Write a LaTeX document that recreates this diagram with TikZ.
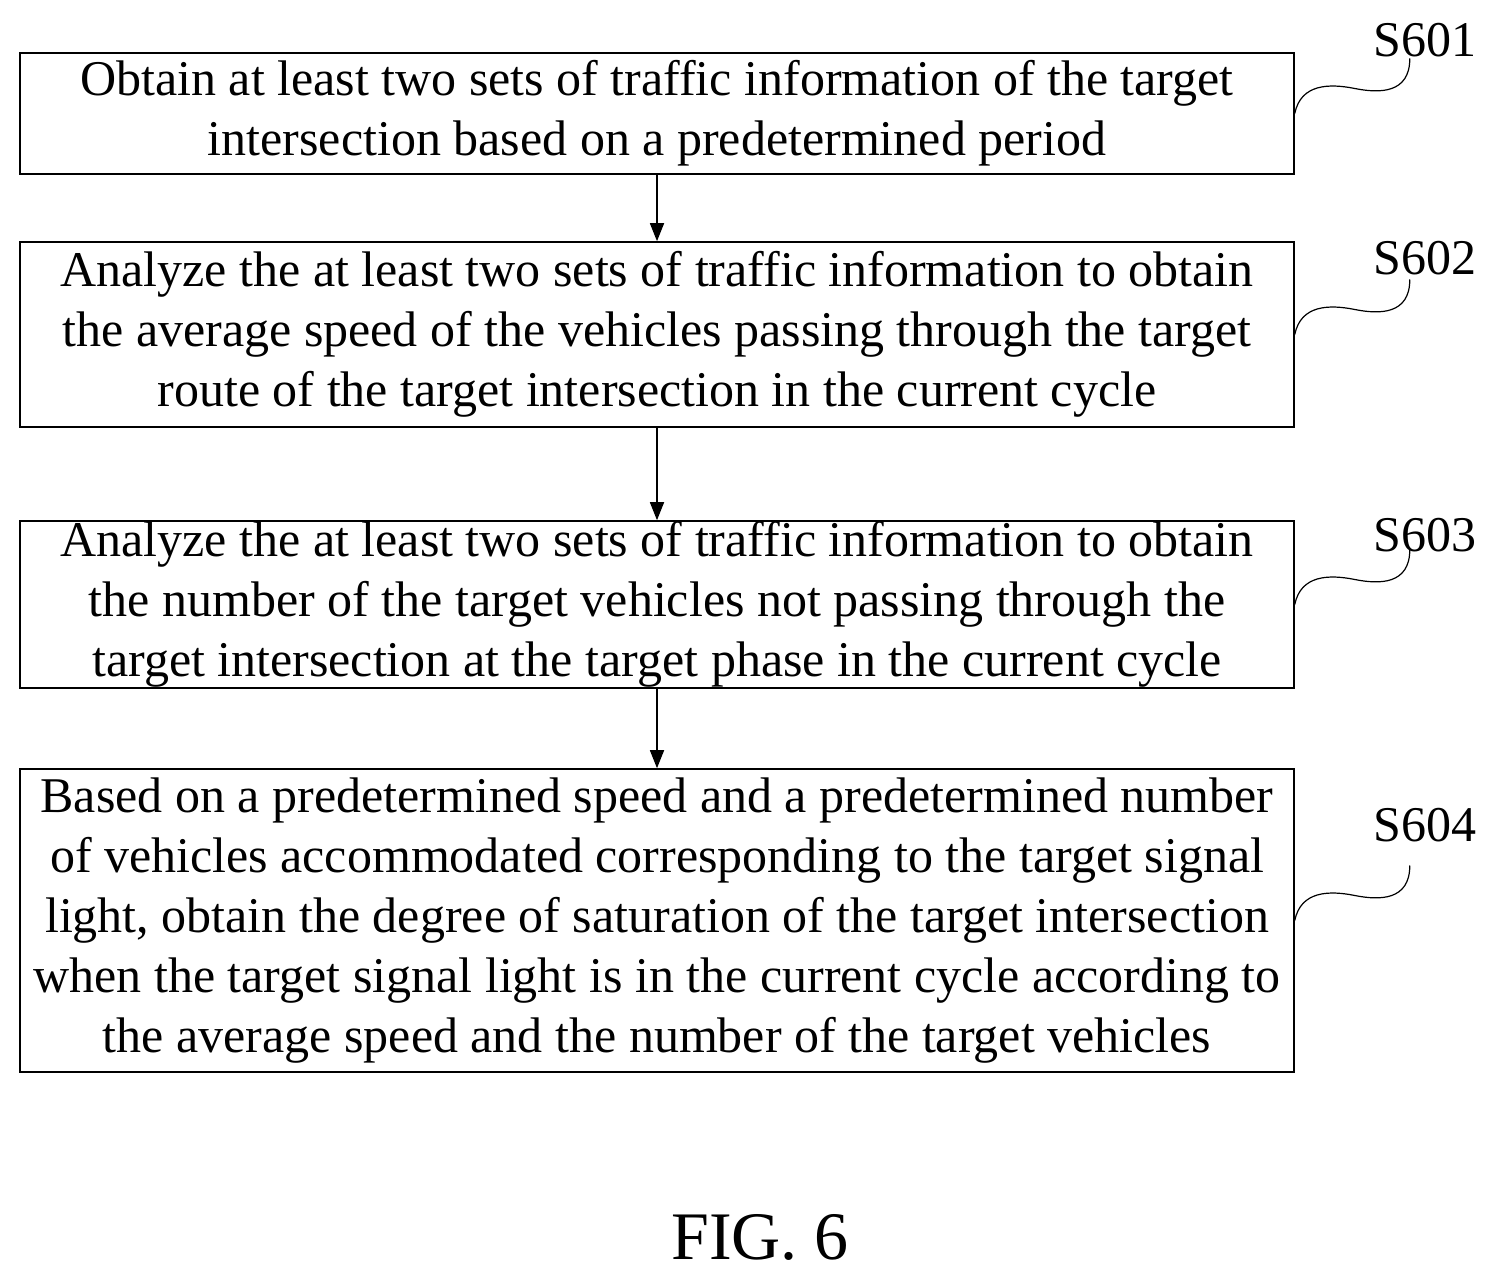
\documentclass[tikz,border=0pt]{standalone}
\usepackage{fontspec}
\setmainfont{Liberation Serif}
\usetikzlibrary{arrows.meta}
\begin{document}
\begin{tikzpicture}[x=0.5pt,y=-0.5pt,
 box/.style={draw,line width=0.8pt,minimum width=637pt,align=center,inner sep=0pt,font=\fontsize{25}{30}\selectfont},
 lab/.style={font=\fontsize{25}{28}\selectfont},
 arr/.style={-{Triangle[length=9pt,width=7pt]},line width=0.8pt},
 sq/.style={line width=0.6pt}]
\useasboundingbox (0,0) rectangle (1494,1278);
\node[box,minimum height=60.5pt] (b1) at (657,113.5) {Obtain at least two sets of traffic information of the target\\ intersection based on a predetermined period};
\node[box,minimum height=92.5pt] (b2) at (657,334.5) {Analyze the at least two sets of traffic information to obtain\\ the average speed of the vehicles passing through the target\\ route of the target intersection in the current cycle};
\node[box,minimum height=83.5pt] (b3) at (657,604.5) {Analyze the at least two sets of traffic information to obtain\\ the number of the target vehicles not passing through the\\ target intersection at the target phase in the current cycle};
\node[box,minimum height=151.5pt] (b4) at (657,920.5) {Based on a predetermined speed and a predetermined number\\ of vehicles accommodated corresponding to the target signal\\ light, obtain the degree of saturation of the target intersection\\ when the target signal light is in the current cycle according to\\ the average speed and the number of the target vehicles};
\draw[arr] (b1) -- (b2);
\draw[arr] (b2) -- (b3);
\draw[arr] (b3) -- (b4);
\node[lab] (l1) at (1425,40) {S601};
\node[lab] (l2) at (1425,258) {S602};
\node[lab] (l3) at (1425,535) {S603};
\node[lab] (l4) at (1425,825) {S604};
\foreach \b/\l in {b1/l1,b2/l2,b3/l3,b4/l4}{
 \coordinate (s) at (\b.east);
 \draw[sq] (s) .. controls ++(6,-30) and ++(-25,-5) .. ++(60,-25) coordinate (m) .. controls ++(25,5) and ++(0,35) .. ++(55,-30);
}
\node[font=\fontsize{34}{40}\selectfont] (fig) at (760,1237) {FIG. 6};
\end{tikzpicture}
\end{document}
